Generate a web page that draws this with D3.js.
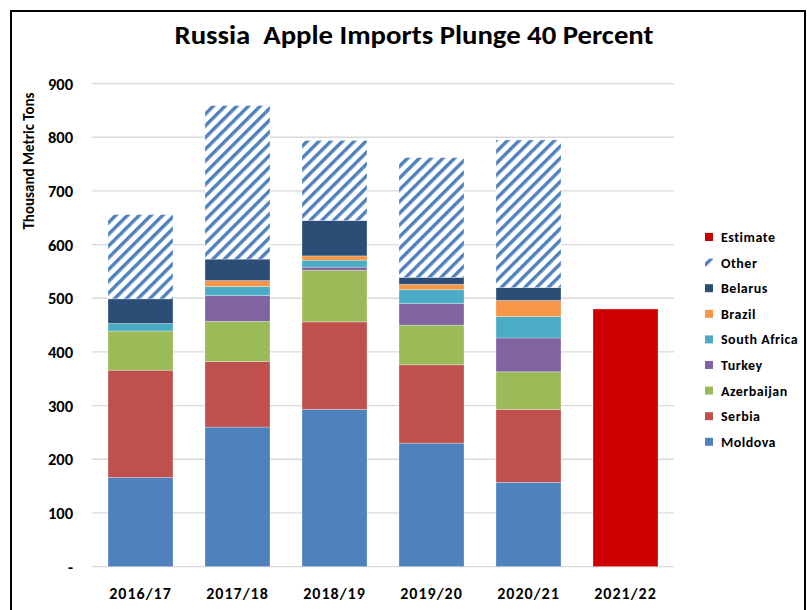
<!DOCTYPE html>
<html>
<head>
<meta charset="utf-8">
<script src="https://cdn.jsdelivr.net/npm/d3@7"></script>
<style>
  html, body { margin: 0; padding: 0; background: #fff; }
  svg { display: block; }
  text { font-family: Carlito, Calibri, Lato, "Open Sans", sans-serif; font-weight: bold; fill: #000; }
  .title { white-space: pre; }
</style>
</head>
<body>
<svg id="chart" width="807" height="610"></svg>
<script>
// Russian apple imports by supplier, thousand metric tons
const categories = ["2016/17", "2017/18", "2018/19", "2019/20", "2020/21", "2021/22"];
const moldova     = [166, 260, 293, 230, 157, 0];
const serbia      = [200, 122, 163, 146, 136, 0];
const azerbaijan  = [73, 75, 96, 74, 70, 0];
const turkey      = [0, 48, 6, 40, 63, 0];
const southAfrica = [14, 17, 13, 26, 40, 0];
const brazil      = [0, 11, 8, 10, 30, 0];
const belarus     = [46, 40, 66, 13, 24, 0];
const other       = [157, 286, 149, 223, 275, 0];
const estimate    = [0, 0, 0, 0, 0, 480];
const yTicks      = [0, 100, 200, 300, 400, 500, 600, 700, 800, 900];
const yTickLabels = ["-", "100", "200", "300", "400", "500", "600", "700", "800", "900"];

const series = [
  { key: "Moldova",      values: moldova,     color: "#4f81bd" },
  { key: "Serbia",       values: serbia,      color: "#c0504d" },
  { key: "Azerbaijan",   values: azerbaijan,  color: "#9bbb59" },
  { key: "Turkey",       values: turkey,      color: "#8064a2" },
  { key: "South Africa", values: southAfrica, color: "#4bacc6" },
  { key: "Brazil",       values: brazil,      color: "#f79646" },
  { key: "Belarus",      values: belarus,     color: "#2c4d75" },
  { key: "Other",        values: other,       color: "url(#hatch)" },
  { key: "Estimate",     values: estimate,    color: "#cc0000" }
];

const rows = categories.map((c, i) => {
  const r = { category: c };
  series.forEach(s => { r[s.key] = s.values[i]; });
  return r;
});

const svg = d3.select("#chart");

// Diagonal hatch used for "Other"
const defs = svg.append("defs");
const pat = defs.append("pattern")
  .attr("id", "hatch")
  .attr("patternUnits", "userSpaceOnUse")
  .attr("width", 8.3).attr("height", 8.3)
  .attr("patternTransform", "rotate(45)");
pat.append("rect").attr("width", 8.3).attr("height", 8.3).attr("fill", "#fff");
pat.append("rect").attr("width", 3.4).attr("height", 8.3).attr("fill", "#4f81bd");

// Outer frame
svg.append("rect")
  .attr("x", 11).attr("y", 11)
  .attr("width", 794).attr("height", 620)
  .attr("fill", "none").attr("stroke", "#000").attr("stroke-width", 2);

const x = d3.scaleBand()
  .domain(categories)
  .range([92, 674])
  .paddingInner(0.33)
  .paddingOuter(0.165);

const y = d3.scaleLinear()
  .domain([0, 900])
  .range([566.6, 83.6]);

// Gridlines
svg.append("g")
  .selectAll("line")
  .data(yTicks)
  .join("line")
  .attr("x1", 92).attr("x2", 674)
  .attr("y1", d => y(d)).attr("y2", d => y(d))
  .attr("stroke", "#d9d9d9").attr("stroke-width", 1.3);

// Y tick labels
svg.append("g")
  .selectAll("text")
  .data(yTicks)
  .join("text")
  .attr("x", 73)
  .attr("y", d => y(d))
  .attr("dy", "0.36em")
  .attr("text-anchor", "end")
  .attr("font-size", 16.5)
  .text((d, i) => yTickLabels[i]);

// Y axis title
svg.append("text")
  .attr("transform", "translate(34,161) rotate(-90)")
  .attr("text-anchor", "middle")
  .attr("font-size", 15)
  .text("Thousand Metric Tons");

// Stacked bars
const stacked = d3.stack().keys(series.map(s => s.key))(rows);

svg.append("g")
  .selectAll("g")
  .data(stacked)
  .join("g")
  .attr("fill", (d, i) => series[i].color)
  .selectAll("rect")
  .data(d => d.filter(p => p[1] - p[0] > 0))
  .join("rect")
  .attr("x", p => x(p.data.category))
  .attr("width", x.bandwidth())
  .attr("y", p => y(p[1]))
  .attr("height", p => y(p[0]) - y(p[1]))
  .attr("stroke", "#ffffff")
  .attr("stroke-opacity", 0.35)
  .attr("stroke-width", 0.8);

// Category labels
svg.append("g")
  .selectAll("text")
  .data(categories)
  .join("text")
  .attr("x", d => x(d) + x.bandwidth() / 2)
  .attr("y", 593)
  .attr("dy", "0.36em")
  .attr("text-anchor", "middle")
  .attr("font-size", 16)
  .attr("letter-spacing", 1)
  .text(d => d);

// Title
svg.append("text")
  .attr("class", "title")
  .attr("x", 414)
  .attr("y", 44)
  .attr("text-anchor", "middle")
  .attr("font-size", 27)
  .attr("textLength", 479)
  .attr("lengthAdjust", "spacingAndGlyphs")
  .text("Russia  Apple Imports Plunge 40 Percent");

// Legend (top to bottom: last stacked series first)
const legendItems = series.slice().reverse();
const legend = svg.append("g")
  .selectAll("g")
  .data(legendItems)
  .join("g")
  .attr("transform", (d, i) => `translate(705, ${237 + i * 25.6})`);

legend.append("rect")
  .attr("x", 0).attr("y", -4)
  .attr("width", 8).attr("height", 8)
  .attr("fill", d => d.color);

legend.append("text")
  .attr("x", 16)
  .attr("y", 0)
  .attr("dy", "0.36em")
  .attr("font-size", 14)
  .attr("letter-spacing", 0.5)
  .text(d => d.key);
</script>
</body>
</html>
